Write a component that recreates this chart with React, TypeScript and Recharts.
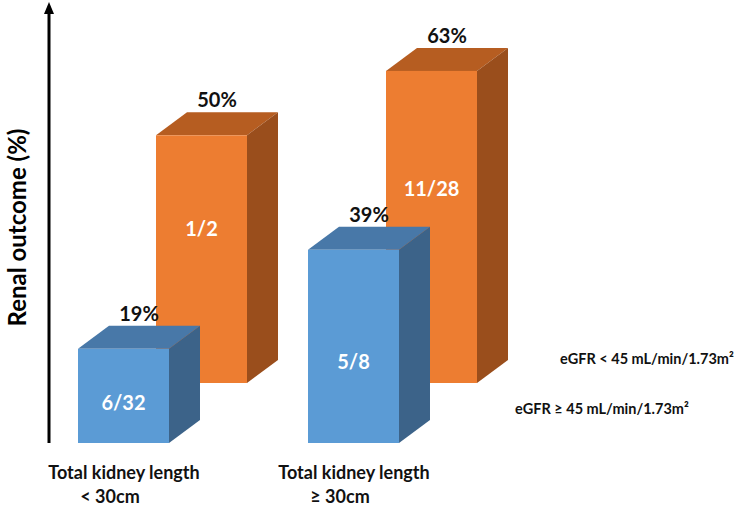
import { Bar, BarChart, LabelList, Legend, XAxis, YAxis } from 'recharts'

const categories = ['Total kidney length|< 30cm', 'Total kidney length|≥ 30cm']
const highEgfrPct = [19, 39]
const lowEgfrPct = [50, 63]
const highEgfrCounts = ['6/32', '5/8']
const lowEgfrCounts = ['1/2', '11/28']
const legendLines = ['eGFR < 45 mL/min/1.73m²', 'eGFR ≥ 45 mL/min/1.73m²']

const data = categories.map((name, i) => ({
  name,
  high: highEgfrPct[i],
  low: lowEgfrPct[i],
  highN: highEgfrCounts[i],
  lowN: lowEgfrCounts[i],
}))

// fake 3d look
const DX = 31
const DY = 23
const BACK_LIFT = 60 // orange row sits further back
const FONT = 'Lato, "Open Sans", sans-serif'

const blue = { front: '#5B9BD5', top: '#4878A8', side: '#3C6389' }
const orange = { front: '#ED7D31', top: '#B65D21', side: '#9A4E1C' }

function boxShape(c: typeof blue, lift: number) {
  return (props: any) => {
    const { x, width: w, height: h } = props
    const y = props.y - lift
    return (
      <g>
        <polygon
          points={`${x},${y} ${x + DX},${y - DY} ${x + w + DX},${y - DY} ${x + w},${y}`}
          fill={c.top}
        />
        <polygon
          points={`${x + w},${y} ${x + w + DX},${y - DY} ${x + w + DX},${y + h - DY} ${x + w},${y + h}`}
          fill={c.side}
        />
        <rect x={x} y={y} width={w} height={h} fill={c.front} />
      </g>
    )
  }
}

function pctLabel(lift: number) {
  return (props: any) => {
    const { x, y, width, value } = props
    return (
      <text
        x={x + width / 2 + DX / 2}
        y={y - lift - DY - 5}
        textAnchor="middle"
        fontFamily={FONT}
        fontWeight={700}
        fontSize={20}
        fill="#111"
      >
        {value}%
      </text>
    )
  }
}

function countLabel(lift: number, frac: number) {
  return (props: any) => {
    const { x, y, width, height, value } = props
    return (
      <text
        x={x + width / 2}
        y={y - lift + height * frac + 7}
        textAnchor="middle"
        fontFamily={FONT}
        fontWeight={700}
        fontSize={20}
        fill="#fff"
      >
        {value}
      </text>
    )
  }
}

function CategoryTick(props: any) {
  const { x, y, payload } = props
  const [l1, l2] = String(payload.value).split('|')
  return (
    <g fontFamily={FONT} fontWeight={700} fontSize={18} fill="#111">
      <text x={x - 38} y={y + 36} textAnchor="middle">
        {l1}
      </text>
      <text x={x - 52} y={y + 60} textAnchor="middle">
        {l2}
      </text>
    </g>
  )
}

function YTitle(props: any) {
  const { viewBox } = props
  const cx = viewBox.x + 16
  const cy = viewBox.y + viewBox.height / 2
  return (
    <text
      x={cx}
      y={cy}
      transform={`rotate(-90, ${cx}, ${cy})`}
      textAnchor="middle"
      dominantBaseline="central"
      fontFamily={FONT}
      fontWeight={700}
      fontSize={24}
      fill="#000"
    >
      Renal outcome (%)
    </text>
  )
}

function LegendText() {
  return (
    <div style={{ fontFamily: FONT, fontWeight: 700, fontSize: 14.5, color: '#111', position: 'relative' }}>
      <div style={{ position: 'absolute', left: 45, top: 0, whiteSpace: 'nowrap' }}>{legendLines[0]}</div>
      <div style={{ position: 'absolute', left: 0, top: 50, whiteSpace: 'nowrap' }}>{legendLines[1]}</div>
    </div>
  )
}

export default function App() {
  return (
    <div style={{ position: 'absolute', left: 0, top: 0, background: '#fff' }}>
      <BarChart
        width={738}
        height={508}
        data={data}
        margin={{ top: 12, right: 231, bottom: 0, left: 0 }}
        barGap={-169}
        barSize={91}
      >
        <defs>
          <marker
            id="axis-arrow"
            viewBox="0 0 12 10"
            refX={2}
            refY={5}
            markerWidth={12}
            markerHeight={10}
            markerUnits="userSpaceOnUse"
            orient="auto-start-reverse"
          >
            <path d="M0,0 L12,5 L0,10 z" fill="#000" />
          </marker>
        </defs>
        <XAxis
          dataKey="name"
          axisLine={false}
          tickLine={false}
          tickSize={0}
          tickMargin={0}
          height={65}
          padding={{ left: -2, right: 0 }}
          tick={<CategoryTick />}
          interval={0}
        />
        <YAxis
          width={49}
          domain={[0, 87]}
          tick={false}
          tickLine={false}
          axisLine={{ stroke: '#000', strokeWidth: 3, markerStart: 'url(#axis-arrow)' }}
          label={<YTitle />}
        />
        <Legend
          layout="horizontal"
          verticalAlign="middle"
          align="center"
          content={<LegendText />}
          wrapperStyle={{ position: 'absolute', left: 515, top: 350, width: 220, height: 80 }}
        />
        <Bar dataKey="low" name={legendLines[0]} shape={boxShape(orange, BACK_LIFT)} isAnimationActive={false}>
          <LabelList dataKey="low" content={pctLabel(BACK_LIFT)} />
          <LabelList dataKey="lowN" content={countLabel(BACK_LIFT, 0.38)} />
        </Bar>
        <Bar dataKey="high" name={legendLines[1]} shape={boxShape(blue, 0)} isAnimationActive={false}>
          <LabelList dataKey="high" content={pctLabel(0)} />
          <LabelList dataKey="highN" content={countLabel(0, 0.58)} />
        </Bar>
      </BarChart>
    </div>
  )
}
